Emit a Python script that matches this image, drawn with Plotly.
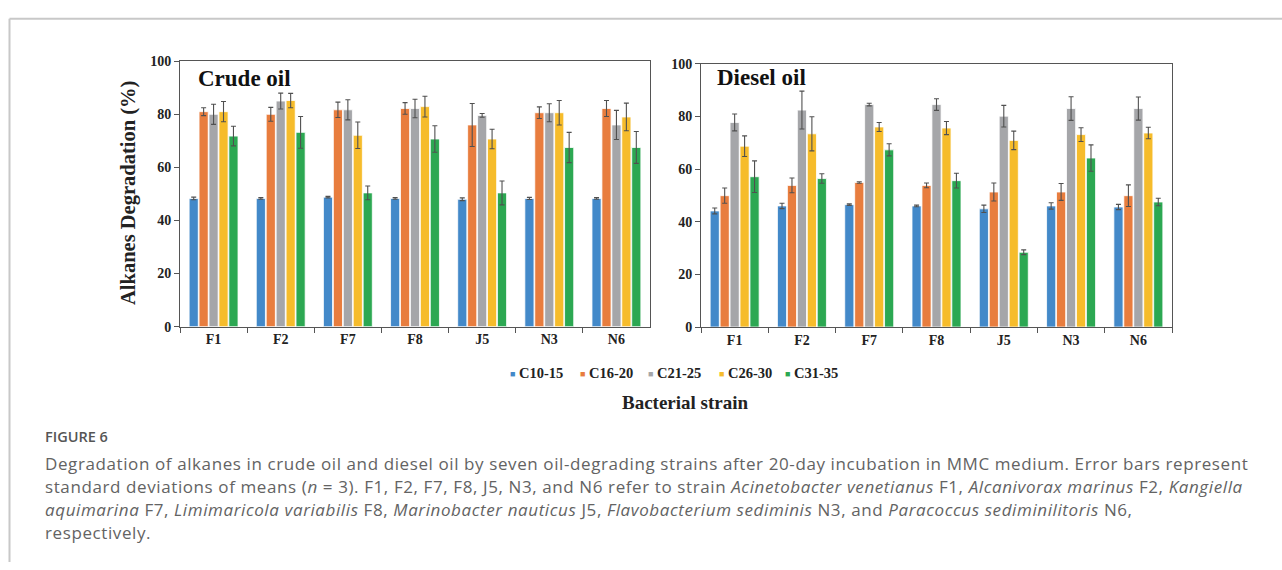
import plotly.graph_objects as go

strains = ["F1", "F2", "F7", "F8", "J5", "N3", "N6"]
series = ["C10-15", "C16-20", "C21-25", "C26-30", "C31-35"]
colors = ["#4389C9", "#E87D3E", "#A5A6A9", "#F6BC2B", "#2CA852"]

crude_vals = {
    "C10-15": [48.3, 48.3, 48.8, 48.3, 48.0, 48.3, 48.3],
    "C16-20": [81.0, 80.0, 81.7, 82.2, 76.0, 80.6, 82.2],
    "C21-25": [80.0, 85.0, 81.7, 82.2, 79.6, 80.6, 76.0],
    "C26-30": [81.0, 85.2, 72.1, 82.9, 70.7, 80.6, 79.0],
    "C31-35": [71.8, 73.2, 50.4, 70.7, 50.4, 67.5, 67.5],
}
crude_err = {
    "C10-15": [0.5, 0.3, 0.3, 0.3, 0.5, 0.4, 0.3],
    "C16-20": [1.5, 2.6, 2.9, 2.2, 8.1, 2.2, 3.0],
    "C21-25": [3.8, 3.0, 3.8, 3.5, 0.7, 3.4, 5.5],
    "C26-30": [3.8, 2.7, 5.0, 3.9, 3.7, 4.6, 5.2],
    "C31-35": [3.7, 6.0, 2.6, 5.0, 4.5, 5.7, 6.0],
}
diesel_vals = {
    "C10-15": [44.1, 46.0, 46.5, 46.0, 44.9, 46.0, 45.6],
    "C16-20": [49.9, 53.8, 54.9, 53.8, 51.3, 51.3, 49.9],
    "C21-25": [77.7, 82.4, 84.5, 84.5, 80.1, 83.0, 83.0],
    "C26-30": [68.7, 73.4, 76.0, 75.6, 70.9, 73.1, 73.7],
    "C31-35": [57.1, 56.4, 67.3, 55.6, 28.4, 64.2, 47.5],
}
diesel_err = {
    "C10-15": [1.1, 1.0, 0.3, 0.3, 1.4, 1.2, 1.0],
    "C16-20": [2.9, 2.8, 0.3, 0.9, 3.4, 3.2, 4.1],
    "C21-25": [3.2, 7.2, 0.5, 2.2, 4.1, 4.5, 4.4],
    "C26-30": [3.9, 6.5, 1.7, 2.5, 3.5, 2.6, 2.2],
    "C31-35": [6.0, 1.8, 2.3, 2.8, 0.9, 5.0, 1.4],
}
panel_titles = ["Crude oil", "Diesel oil"]
y_ticks = [0, 20, 40, 60, 80, 100]

W, H = 1282, 570
def px(x): return x / W
def py(y): return 1 - y / H

SERIF = "Liberation Serif"
fig = go.Figure()
for idx, (vals, errs) in enumerate([(crude_vals, crude_err), (diesel_vals, diesel_err)]):
    xa = "x" if idx == 0 else "x2"
    ya = "y" if idx == 0 else "y2"
    for s, c in zip(series, colors):
        fig.add_trace(go.Bar(
            x=strains, y=vals[s], name=s, marker=dict(color=c, line=dict(color="white", width=0.8)),
            error_y=dict(type="data", array=errs[s], color="#505050", thickness=1.1, width=2.5),
            xaxis=xa, yaxis=ya, showlegend=False, hoverinfo="skip"))

tickfont = dict(family=SERIF, size=14, color="#222", weight="bold")
axis_common = dict(showgrid=False, zeroline=False, showline=True, linecolor="#555", linewidth=1,
                   mirror=True, ticks="outside", ticklen=5, tickcolor="#555", tickfont=tickfont)
fig.update_layout(
    width=W, height=H, margin=dict(l=0, r=0, t=0, b=0),
    paper_bgcolor="white", plot_bgcolor="white",
    barmode="group", bargap=0.26, bargroupgap=0.08,
    xaxis=dict(domain=[px(180), px(650)], anchor="y", type="category", tickson="boundaries", **axis_common),
    yaxis=dict(domain=[py(328.3), py(55.7)], anchor="x", range=[0, 100], tickvals=y_ticks, **axis_common),
    xaxis2=dict(domain=[px(701), px(1172)], anchor="y2", type="category", tickson="boundaries", **axis_common),
    yaxis2=dict(domain=[py(328.7), py(58.3)], anchor="x2", range=[0, 100], tickvals=y_ticks, **axis_common),
)

ann = []
# panel titles
ann.append(dict(text=panel_titles[0], x=px(196), y=py(73), xref="paper", yref="paper", xanchor="left",
                yanchor="middle", showarrow=False,
                font=dict(family=SERIF, size=23, color="#111", weight="bold")))
ann.append(dict(text=panel_titles[1], x=px(715), y=py(72), xref="paper", yref="paper", xanchor="left",
                yanchor="middle", showarrow=False,
                font=dict(family=SERIF, size=23, color="#111", weight="bold")))
# y-axis title
ann.append(dict(text="Alkanes Degradation (%)", x=px(129), y=py(191), xref="paper", yref="paper",
                textangle=-90, showarrow=False, xanchor="center", yanchor="middle",
                font=dict(family=SERIF, size=20.5, color="#222", weight="bold")))
# legend (manual)
leg_x = [509, 579, 647, 718, 784]
for lx, s, c in zip(leg_x, series, colors):
    ann.append(dict(text="■", x=px(lx - 1), y=py(376), xref="paper", yref="paper", xanchor="left",
                    yanchor="middle", showarrow=False, font=dict(size=9, color=c)))
    ann.append(dict(text=s, x=px(lx + 8), y=py(376), xref="paper", yref="paper", xanchor="left",
                    yanchor="middle", showarrow=False,
                    font=dict(family=SERIF, size=14.5, color="#222", weight="bold")))
ann.append(dict(text="Bacterial strain", x=px(685), y=py(406), xref="paper", yref="paper",
                xanchor="center", yanchor="middle", showarrow=False,
                font=dict(family=SERIF, size=19, color="#222", weight="bold")))

# caption
cap_x = 43
ann.append(dict(text="FIGURE 6", x=px(cap_x), y=py(441), xref="paper", yref="paper", xanchor="left",
                yanchor="middle", showarrow=False,
                font=dict(family="Open Sans", size=14.5, color="#555", weight=600)))
cap_lines = [
    "Degradation of alkanes in crude oil and diesel oil by seven oil-degrading strains after 20-day incubation in MMC medium. Error bars represent",
    "standard deviations of means (<i>n</i> = 3). F1, F2, F7, F8, J5, N3, and N6 refer to strain <i>Acinetobacter venetianus</i> F1, <i>Alcanivorax marinus</i> F2, <i>Kangiella</i>",
    "<i>aquimarina</i> F7, <i>Limimaricola variabilis</i> F8, <i>Marinobacter nauticus</i> J5, <i>Flavobacterium sediminis</i> N3, and <i>Paracoccus sediminilitoris</i> N6,",
    "respectively.",
]
cap_y = [469, 492.5, 516, 539.5]
for t, yy in zip(cap_lines, cap_y):
    ann.append(dict(text='<span style="letter-spacing:0.6px">' + t + "</span>",
                    x=px(cap_x), y=py(yy), xref="paper", yref="paper", xanchor="left",
                    yanchor="middle", showarrow=False,
                    font=dict(family="Open Sans", size=17, color="#636363")))
fig.update_layout(annotations=ann)

# frame lines
fig.add_shape(type="line", xref="paper", yref="paper", x0=px(9.5), x1=1, y0=py(12), y1=py(12),
              line=dict(color="#C8C8C8", width=2))
fig.add_shape(type="line", xref="paper", yref="paper", x0=px(9.5), x1=px(9.5), y0=py(12), y1=0,
              line=dict(color="#C8C8C8", width=2))

fig.write_html("out.html", config={"displayModeBar": False},
               post_script="document.body.style.margin='0';document.body.style.padding='0';")
